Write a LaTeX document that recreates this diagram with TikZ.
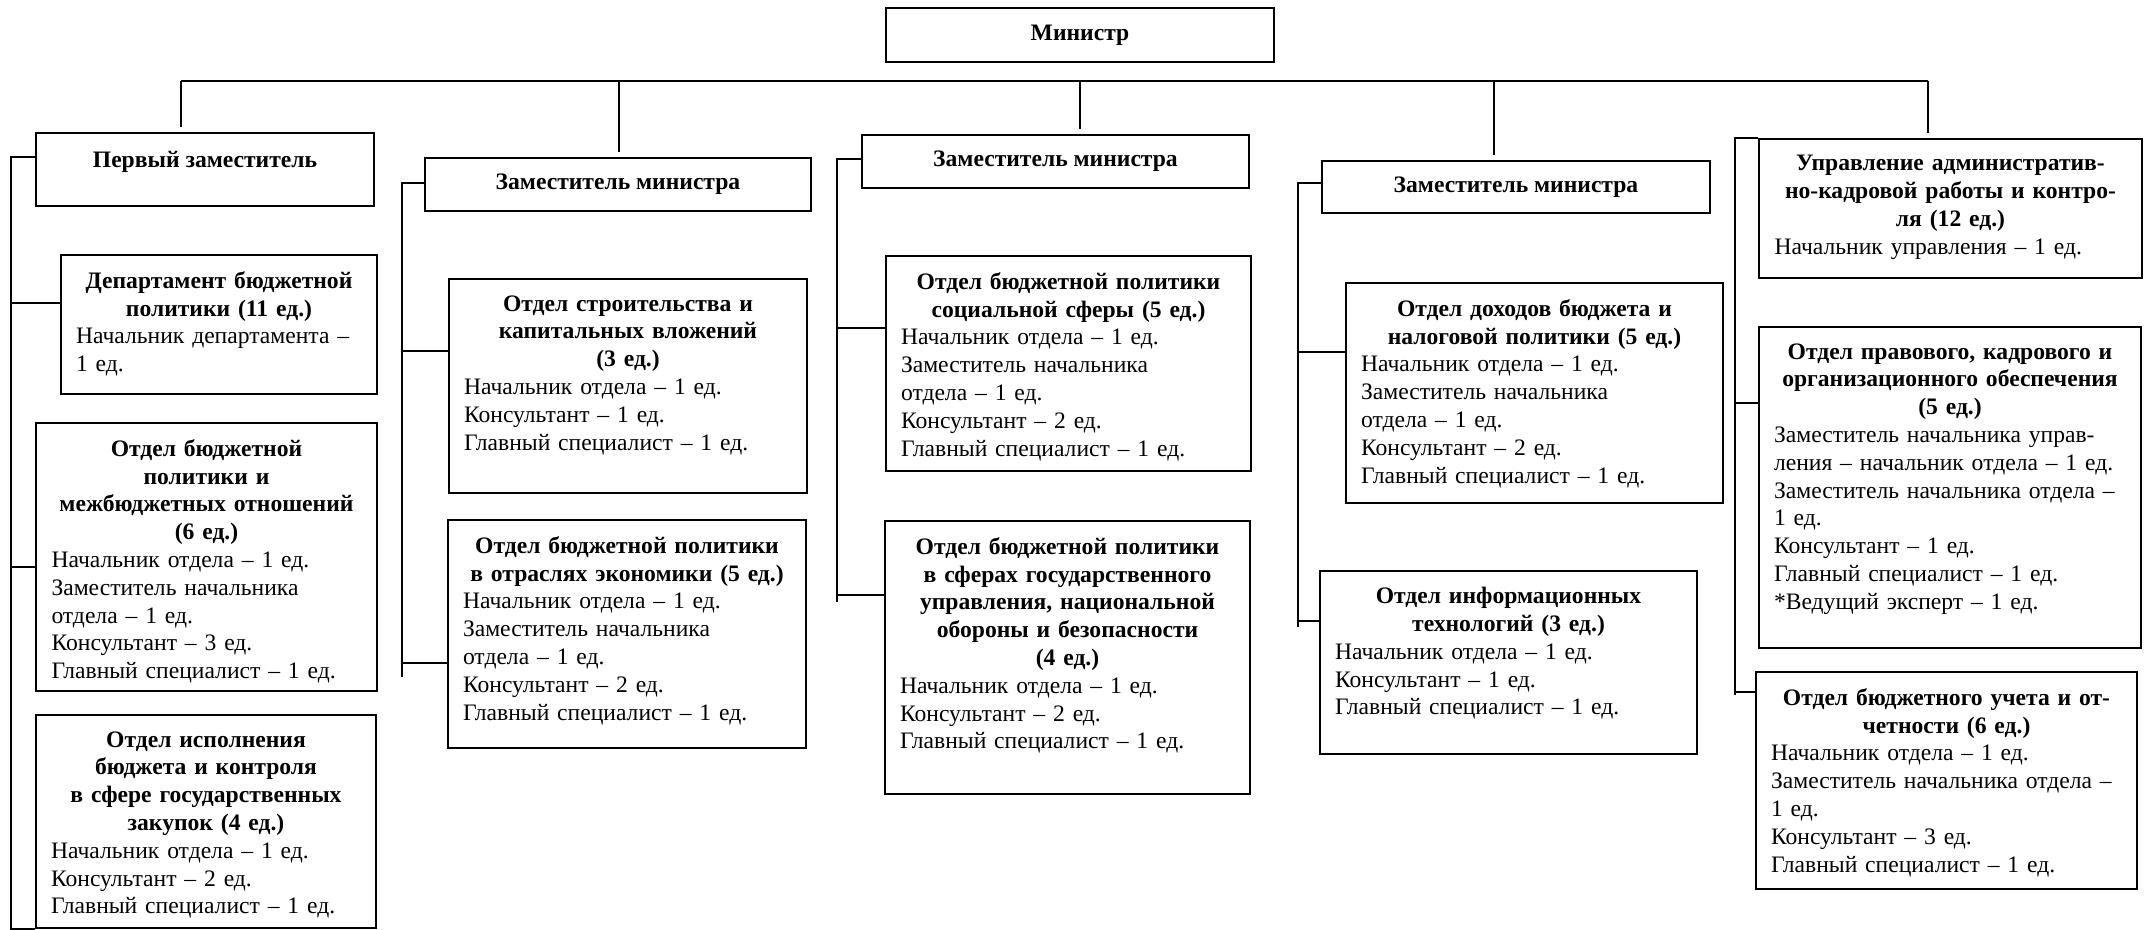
\documentclass[tikz,border=0pt]{standalone}
\usepackage{fontspec}
\setmainfont{Liberation Serif}
\usetikzlibrary{fit}

\begin{document}
\begin{tikzpicture}[
    x=0.5pt, y=-0.5pt,
    % Define styles for reusable components
    unit/.style={draw, line width=1pt, inner sep=0pt},
    txt/.style={anchor=north, inner sep=0pt, yshift=-8.5pt, align=left,
        font=\fontsize{11.8}{13.9}\selectfont},
    mid/.style={anchor=center, inner sep=0pt, align=center,
        font=\fontsize{11.8}{13.9}\selectfont\bfseries},
    link/.style={line width=1.4pt},
    drop/.style={line width=1.4pt, shorten >=2.5pt}
]
    \useasboundingbox (0,0) rectangle (2149,930);

    % --- MINISTER ---
    \node[unit, fit={(886,8) (1274,62)}] (min) {};
    \node[mid] (min-t) at (min.center) {Министр};

    % --- DEPUTIES ---
    \node[unit, fit={(36,133) (374,206)}] (dep1) {};
    \node[mid, yshift=4pt] (dep1-t) at (dep1.center) {Первый заместитель};

    \node[unit, fit={(425,158) (811,211)}] (dep2) {};
    \node[mid] (dep2-t) at (dep2.center) {Заместитель министра};

    \node[unit, fit={(862,135) (1249,188)}] (dep3) {};
    \node[mid] (dep3-t) at (dep3.center) {Заместитель министра};

    \node[unit, fit={(1322,161) (1710,213)}] (dep4) {};
    \node[mid] (dep4-t) at (dep4.center) {Заместитель министра};

    \node[unit, fit={(1759,139) (2142,278)}] (upr) {};
    \node[txt, text width=176pt] (upr-t) at (upr.north) {{\centering\bfseries Управление административ-\\ но-кадровой работы и контро-\\ ля (12 ед.)\par}
        Начальник управления – 1 ед.};

    % --- FIRST DEPUTY UNITS ---
    \node[unit, fit={(61,255) (377,394)}] (budg) {};
    \node[txt, text width=143pt] (budg-t) at (budg.north) {{\centering\bfseries Департамент бюджетной\\ политики (11 ед.)\par}
        Начальник департамента –\\ 1 ед.};

    \node[unit, fit={(36,423) (377,691)}] (mezh) {};
    \node[txt, text width=155pt] (mezh-t) at (mezh.north) {{\centering\bfseries Отдел бюджетной\\ политики и\\ межбюджетных отношений\\ (6 ед.)\par}
        Начальник отдела – 1 ед.\\ Заместитель начальника\\ отдела – 1 ед.\\ Консультант – 3 ед.\\ Главный специалист – 1 ед.};

    \node[unit, fit={(36,715) (376,928)}] (ispoln) {};
    \node[txt, text width=155pt] (ispoln-t) at (ispoln.north) {{\centering\bfseries Отдел исполнения\\ бюджета и контроля\\ в сфере государственных\\ закупок (4 ед.)\par}
        Начальник отдела – 1 ед.\\ Консультант – 2 ед.\\ Главный специалист – 1 ед.};

    % --- SECOND COLUMN UNITS ---
    \node[unit, fit={(449,279) (807,493)}] (stroit) {};
    \node[txt, text width=164pt] (stroit-t) at (stroit.north) {{\centering\bfseries Отдел строительства и\\ капитальных вложений\\ (3 ед.)\par}
        Начальник отдела – 1 ед.\\ Консультант – 1 ед.\\ Главный специалист – 1 ед.};

    \node[unit, fit={(448,520) (806,748)}] (otrasl) {};
    \node[txt, text width=164pt] (otrasl-t) at (otrasl.north) {{\centering\bfseries Отдел бюджетной политики\\ в отраслях экономики (5 ед.)\par}
        Начальник отдела – 1 ед.\\ Заместитель начальника\\ отдела – 1 ед.\\ Консультант – 2 ед.\\ Главный специалист – 1 ед.};

    % --- THIRD COLUMN UNITS ---
    \node[unit, fit={(886,256) (1251,471)}] (soc) {};
    \node[txt, text width=167.5pt] (soc-t) at (soc.north) {{\centering\bfseries Отдел бюджетной политики\\ социальной сферы (5 ед.)\par}
        Начальник отдела – 1 ед.\\ Заместитель начальника\\ отдела – 1 ед.\\ Консультант – 2 ед.\\ Главный специалист – 1 ед.};

    \node[unit, fit={(885,521) (1250,794)}] (gos) {};
    \node[txt, text width=167.5pt] (gos-t) at (gos.north) {{\centering\bfseries Отдел бюджетной политики\\ в сферах государственного\\ управления, национальной\\ обороны и безопасности\\ (4 ед.)\par}
        Начальник отдела – 1 ед.\\ Консультант – 2 ед.\\ Главный специалист – 1 ед.};

    % --- FOURTH COLUMN UNITS ---
    \node[unit, fit={(1346,283) (1723,503)}] (dohod) {};
    \node[txt, text width=173.5pt] (dohod-t) at (dohod.north) {{\centering\bfseries Отдел доходов бюджета и\\ налоговой политики (5 ед.)\par}
        Начальник отдела – 1 ед.\\ Заместитель начальника\\ отдела – 1 ед.\\ Консультант – 2 ед.\\ Главный специалист – 1 ед.};

    \node[unit, fit={(1320,571) (1697,754)}] (inform) {};
    \node[txt, text width=173.5pt] (inform-t) at (inform.north) {{\centering\bfseries Отдел информационных\\ технологий (3 ед.)\par}
        Начальник отдела – 1 ед.\\ Консультант – 1 ед.\\ Главный специалист – 1 ед.};

    % --- RIGHT COLUMN UNITS ---
    \node[unit, fit={(1759,327) (2141,648)}] (prav) {};
    \node[txt, text width=176pt] (prav-t) at (prav.north) {{\centering\bfseries Отдел правового, кадрового и\\ организационного обеспечения\\ (5 ед.)\par}
        Заместитель начальника управ-\\ ления – начальник отдела – 1 ед.\\ Заместитель начальника отдела –\\ 1 ед.\\ Консультант – 1 ед.\\ Главный специалист – 1 ед.\\ {*}Ведущий эксперт – 1 ед.};

    \node[unit, fit={(1756,672) (2137,889)}] (uchet) {};
    \node[txt, text width=175.5pt] (uchet-t) at (uchet.north) {{\centering\bfseries Отдел бюджетного учета и от-\\ четности (6 ед.)\par}
        Начальник отдела – 1 ед.\\ Заместитель начальника отдела –\\ 1 ед.\\ Консультант – 3 ед.\\ Главный специалист – 1 ед.};

    % --- TOP BAR AND DROPS ---
    \coordinate (j1) at (181,81);
    \coordinate (j2) at (619,81);
    \coordinate (j3) at (1080,81);
    \coordinate (j4) at (1494,81);
    \coordinate (j5) at (1928,81);
    \draw[link] (j1) -- (j5);
    \foreach \j/\n in {j1/dep1, j2/dep2, j3/dep3, j4/dep4, j5/upr}
        \draw[drop] (\j) -- (\j |- \n.north);

    % --- TRUNKS ---
    \draw[link] (dep1.west |- 0,157) -- (11,157) |- (ispoln.south west);
    \draw[link] (dep2.west |- 0,183) -- (402,183) -- (402,677);
    \draw[link] (dep3.west |- 0,159) -- (837,159) -- (837,602);
    \draw[link] (dep4.west |- 0,183) -- (1298,183) -- (1298,627);
    \draw[link] (upr.west |- 0,138) -- (1735,138) -- (1735,695);

    % branches from trunks to units
    \foreach \n/\x/\y in {budg/11/303, mezh/11/567, stroit/402/351, otrasl/402/663,
        soc/837/328, gos/837/595, dohod/1298/352, inform/1298/621,
        prav/1735/403, uchet/1735/692}
        \draw[link] (\x,\y) -- (\n.west |- \x,\y);

\end{tikzpicture}
\end{document}
